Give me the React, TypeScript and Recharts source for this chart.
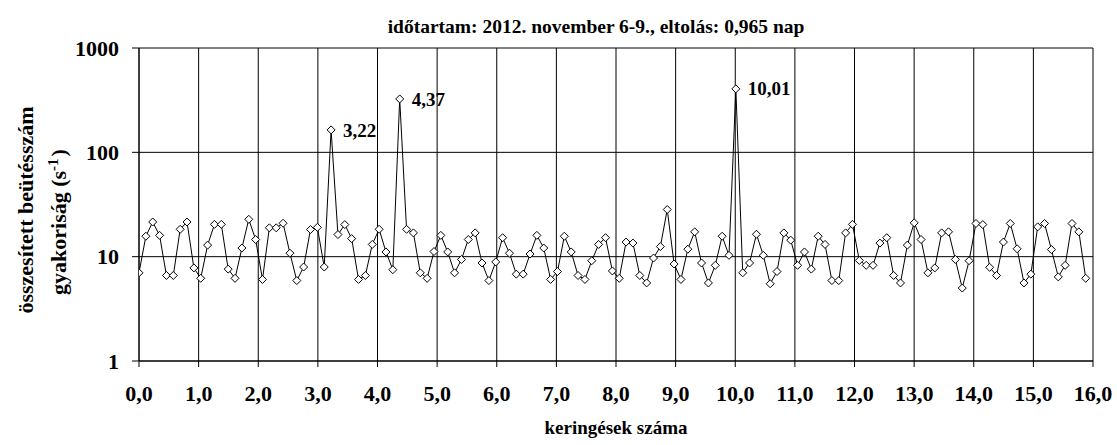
import { CartesianGrid, LabelList, Line, LineChart, XAxis, YAxis } from "recharts";

// orbit step, from the labelled peak at 10,01 (87th step)
const STEP = 10.01 / 87;

const counts = [
  7.0, 15.7, 21.5, 16.0, 6.6, 6.6, 18.3, 21.5, 7.8, 6.2,
  12.9, 20.4, 20.4, 7.6, 6.2, 12.1, 22.8, 14.6, 6.05, 18.9,
  18.9, 20.9, 10.8, 5.9, 7.96, 18.2, 19.1, 7.96, 164, 16.3,
  20.3, 14.9, 6.05, 6.6, 13.1, 18.3, 11.1, 7.5, 325, 18.3,
  16.9, 7.0, 6.2, 11.2, 16.0, 11.1, 7.0, 9.4, 14.6, 16.9,
  8.7, 5.9, 8.9, 15.2, 10.8, 6.8, 6.8, 10.6, 16.0, 12.1,
  6.05, 7.2, 15.7, 11.1, 6.6, 6.05, 9.15, 13.1, 15.2, 7.3,
  6.2, 13.8, 13.5, 6.6, 5.6, 9.7, 12.5, 28.3, 8.5, 6.05,
  11.8, 17.3, 8.7, 5.6, 8.26, 15.7, 10.3, 406, 7.0, 8.7,
  16.4, 10.3, 5.5, 7.2, 16.9, 14.4, 8.26, 11.1, 7.6, 15.7,
  13.1, 5.9, 5.9, 16.9, 20.4, 9.2, 8.26, 8.26, 13.5, 15.2,
  6.6, 5.6, 12.9, 21.1, 14.6, 7.0, 7.8, 16.9, 17.3, 9.4,
  5.0, 9.15, 20.8, 20.3, 7.9, 6.6, 13.8, 20.8, 11.9, 5.6,
  6.8, 19.3, 20.8, 11.7, 6.4, 8.26, 20.8, 17.3, 6.2,
];

const peakIndex = [28, 38, 87];
const peakText = ["3,22", "4,37", "10,01"];

const xTicks = [0, 1, 2, 3, 4, 5, 6, 7, 8, 9, 10, 11, 12, 13, 14, 15, 16];
const yTicks = [1, 10, 100, 1000];

const data = counts.map((v, i) => {
  const k = peakIndex.indexOf(i);
  return { x: i * STEP, y: v, peak: k >= 0 ? peakText[k] : null };
});

const FONT = "'Liberation Serif', 'Times New Roman', serif";

function Diamond(props: any) {
  const { cx, cy } = props;
  if (cx == null || cy == null) return null;
  const r = 4;
  return (
    <path
      d={`M${cx},${cy - r}L${cx + r},${cy}L${cx},${cy + r}L${cx - r},${cy}Z`}
      fill="#fff"
      stroke="#000"
      strokeWidth={1}
    />
  );
}

function PeakLabel(props: any) {
  const { x, y, value } = props;
  if (!value) return null;
  return (
    <text x={x + 12} y={y} dy="0.35em" fontFamily={FONT} fontWeight="bold" fontSize={19} fill="#000">
      {value}
    </text>
  );
}

function YTitle() {
  return (
    <g fontFamily={FONT} fontWeight="bold" fontSize={22} fill="#000">
      <text transform="translate(33, 210) rotate(-90)" textAnchor="middle">
        összesített beütésszám
      </text>
      <text transform="translate(66, 222) rotate(-90)" textAnchor="middle">
        gyakoriság (s
        <tspan baselineShift="super" fontSize={15}>-1</tspan>
        <tspan dx={2}>)</tspan>
      </text>
    </g>
  );
}

export default function App() {
  return (
    <div style={{ position: "absolute", left: 0, top: 0, width: 1117, height: 445, background: "#fff" }}>
      <div
        style={{
          position: "absolute",
          left: 596,
          top: 16,
          transform: "translateX(-50%)",
          whiteSpace: "nowrap",
          fontFamily: FONT,
          fontWeight: "bold",
          fontSize: 19.5,
          lineHeight: "22px",
        }}
      >
        időtartam: 2012. november 6-9., eltolás: 0,965 nap
      </div>
      <LineChart width={1117} height={445} data={data} margin={{ top: 48, right: 24, bottom: 0, left: 0 }}>
        <CartesianGrid stroke="#000" strokeWidth={1} strokeDasharray="" />
        <XAxis
          dataKey="x"
          type="number"
          domain={[0, 16]}
          ticks={xTicks}
          interval={0}
          allowDataOverflow
          height={84}
          stroke="#000"
          tickSize={6}
          tickMargin={18}
          tick={{ fill: "#000", fontFamily: FONT, fontWeight: "bold", fontSize: 22 }}
          tickFormatter={(v) => Number(v).toFixed(1).replace(".", ",")}
          label={{
            value: "keringések száma",
            position: "insideBottom",
            offset: 11,
            fill: "#000",
            fontFamily: FONT,
            fontWeight: "bold",
            fontSize: 19,
          }}
        />
        <YAxis
          type="number"
          scale="log"
          domain={[1, 1000]}
          ticks={yTicks}
          interval={0}
          allowDataOverflow
          width={139}
          stroke="#000"
          tickSize={7}
          tickMargin={13}
          tick={{ fill: "#000", fontFamily: FONT, fontWeight: "bold", fontSize: 22 }}
          label={<YTitle />}
        />
        <Line
          dataKey="y"
          type="linear"
          stroke="#000"
          strokeWidth={1}
          dot={<Diamond />}
          activeDot={false}
          isAnimationActive={false}
        >
          <LabelList dataKey="peak" content={<PeakLabel />} />
        </Line>
      </LineChart>
    </div>
  );
}
